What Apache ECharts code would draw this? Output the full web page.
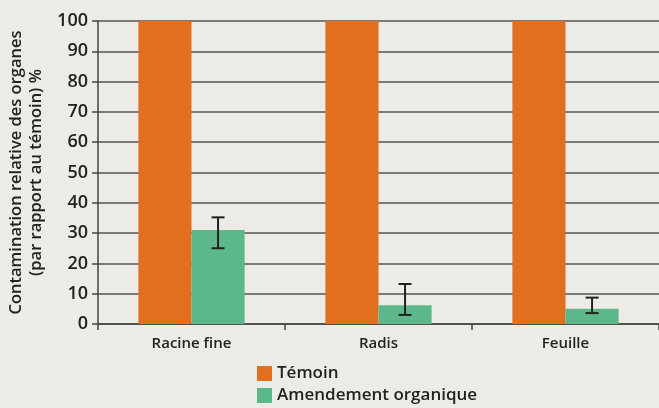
<!DOCTYPE html>
<html>
<head>
    <meta charset="UTF-8">
    <title>Contamination relative des organes</title>
    <style>
        html, body {
            margin: 0;
            padding: 0;
            background: #edebe6;
        }

        #chart {
            width: 659px;
            height: 408px;
        }
    </style>
    <script src="https://cdn.jsdelivr.net/npm/echarts@6/dist/echarts.min.js"></script>
</head>
<body>
<div id="chart"></div>
<script>
    var categories = ['Racine fine', 'Radis', 'Feuille'];
    var temoin = [100, 100, 100];
    var amendement = [31, 6.2, 5];
    var errLow = [25, 3, 3.6];
    var errHigh = [35.2, 13.2, 8.7];
    var yTicks = [0, 10, 20, 30, 40, 50, 60, 70, 80, 90, 100];

    var barRatio = 0.284;
    var textFont = '"Open Sans", sans-serif';
    var textWeight = 600;

    var errData = categories.map(function (c, i) {
        return [i, errLow[i], errHigh[i]];
    });

    var chart = echarts.init(document.getElementById('chart'), null, {renderer: 'canvas'});
    chart.setOption({
        backgroundColor: '#edebe6',
        animation: false,
        textStyle: {fontFamily: textFont},
        grid: {left: 98, right: 0, top: 21, bottom: 84, containLabel: false, outerBoundsMode: 'none'},
        legend: {
            orient: 'vertical',
            left: 257,
            top: 365,
            padding: 0,
            itemWidth: 15,
            itemHeight: 15,
            itemGap: 5,
            icon: 'rect',
            textStyle: {fontSize: 17, fontWeight: textWeight, color: '#222', fontFamily: textFont},
            data: ['Témoin', 'Amendement organique']
        },
        xAxis: {
            type: 'category',
            data: categories,
            axisLine: {lineStyle: {color: '#444', width: 1.5}},
            axisTick: {show: true, length: 6, lineStyle: {color: '#444', width: 1.5}},
            axisLabel: {fontSize: 15, fontWeight: textWeight, color: '#222', margin: 12, fontFamily: textFont}
        },
        yAxis: {
            type: 'value',
            min: yTicks[0],
            max: yTicks[yTicks.length - 1],
            interval: 10,
            name: 'Contamination relative des organes\n(par rapport au témoin) %',
            nameLocation: 'middle',
            nameRotate: 90,
            nameGap: 50,
            nameTextStyle: {fontSize: 16.5, fontWeight: textWeight, color: '#222', lineHeight: 20, fontFamily: textFont},
            axisLine: {show: true, lineStyle: {color: '#444', width: 1.5}},
            axisTick: {show: true, length: 6, lineStyle: {color: '#444', width: 1.5}},
            axisLabel: {fontSize: 18, fontWeight: textWeight, color: '#222', margin: 10, fontFamily: textFont},
            splitLine: {show: true, lineStyle: {color: '#555', width: 1.5}}
        },
        series: [
            {
                name: 'Témoin',
                type: 'bar',
                data: temoin,
                barWidth: (barRatio * 100) + '%',
                barGap: '0%',
                itemStyle: {color: '#e07020'}
            },
            {
                name: 'Amendement organique',
                type: 'bar',
                data: amendement,
                barWidth: (barRatio * 100) + '%',
                barGap: '0%',
                itemStyle: {color: '#5cb88b'}
            },
            {
                type: 'custom',
                name: 'err',
                data: errData,
                z: 10,
                renderItem: function (params, api) {
                    var i = api.value(0);
                    var lo = api.coord([i, api.value(1)]);
                    var hi = api.coord([i, api.value(2)]);
                    var bandW = api.size([1, 0])[0];
                    var x = lo[0] + bandW * barRatio / 2;
                    var cap = 6.5;
                    var style = {stroke: '#222', lineWidth: 2, fill: null};
                    return {
                        type: 'group',
                        children: [
                            {type: 'line', shape: {x1: x, y1: lo[1], x2: x, y2: hi[1]}, style: style},
                            {type: 'line', shape: {x1: x - cap, y1: lo[1], x2: x + cap, y2: lo[1]}, style: style},
                            {type: 'line', shape: {x1: x - cap, y1: hi[1], x2: x + cap, y2: hi[1]}, style: style}
                        ]
                    };
                }
            }
        ]
    });
</script>
</body>
</html>
